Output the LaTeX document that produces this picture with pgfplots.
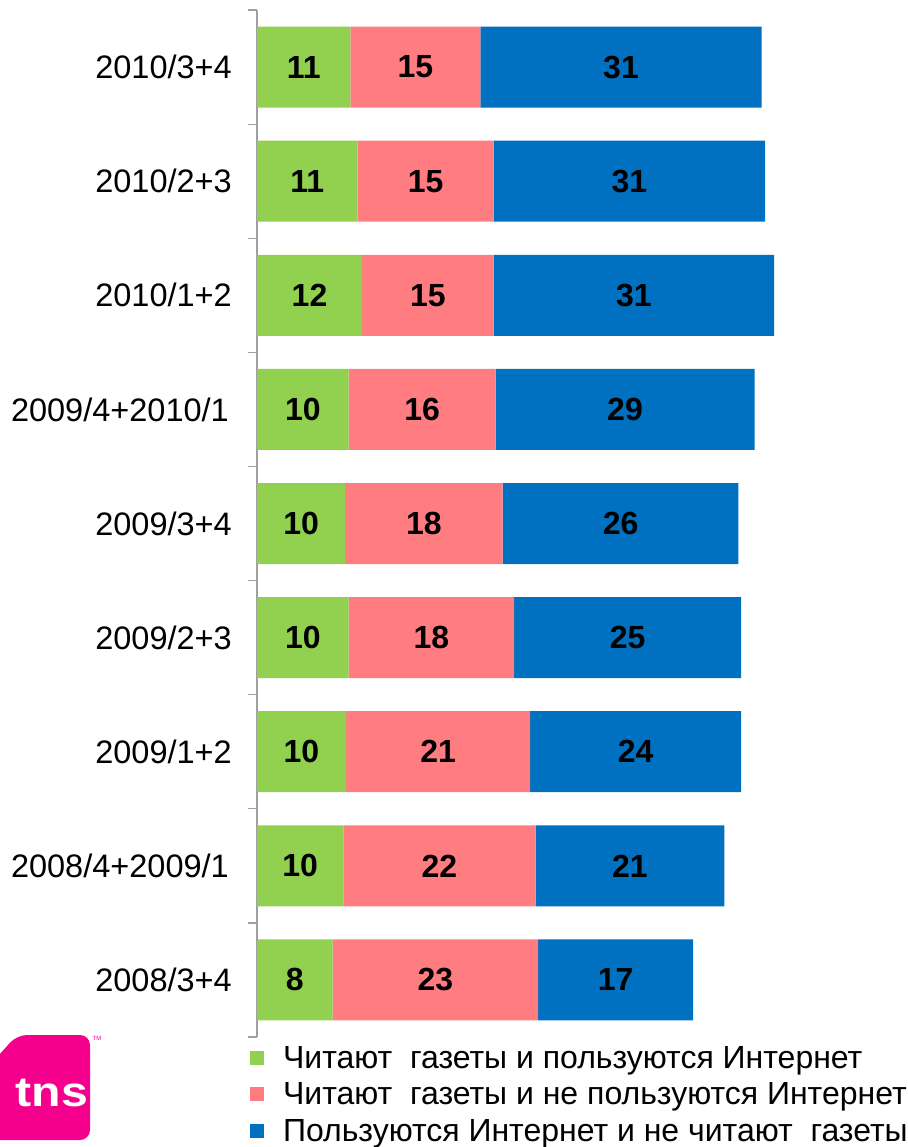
\documentclass[border=0pt]{standalone}
\usepackage{pgfplots}
\pgfplotsset{compat=1.18}
\usepackage{pgfplotstable}
\usepackage{graphicx}
\usepackage{fontspec}
\setmainfont{Liberation Sans}
\definecolor{cg}{HTML}{92D050}
\definecolor{cp}{HTML}{FF7C80}
\definecolor{cb}{HTML}{0070C0}
\definecolor{tnspink}{HTML}{F5008C}
\definecolor{axgray}{HTML}{A0A0A0}

\pgfplotstableread{
y g gl p pl b bl
0 8.5 8 23.1 23 17.4 17
1 9.7 10 21.6 22 21.2 21
2 10.0 10 20.7 21 23.7 24
3 10.3 10 18.6 18 25.5 25
4 9.9 10 17.7 18 26.5 26
5 10.3 10 16.5 16 29.1 29
6 11.8 12 14.8 15 31.5 31
7 11.3 11 15.3 15 30.5 31
8 10.5 11 14.6 15 31.6 31
}\data

\begin{document}
\begin{tikzpicture}
\useasboundingbox (0,0) rectangle (907pt,-1147pt);
\begin{axis}[
  at={(257pt,-1037pt)}, anchor=south west,
  scale only axis, width=623pt, height=1027pt,
  xbar stacked, bar width=81pt,
  xmin=0, xmax=70, ymin=-0.5, ymax=8.5,
  axis x line=none, axis y line=left,
  axis line style={-, draw=axgray, line width=1.2pt},
  ytick={0,...,8},
  yticklabels={2008/3+4,2008/4+2009/1\hspace*{3pt},2009/1+2,2009/2+3,2009/3+4,2009/4+2010/1\hspace*{3pt},2010/1+2,2010/2+3,2010/3+4},
  major tick length=0pt,
  minor ytick={-0.5,0.5,...,8.5},
  minor tick length=9pt, tick align=outside,
  tick style={draw=axgray, line width=1.2pt},
  yticklabel style={font=\fontsize{32.5pt}{36pt}\selectfont, anchor=east, inner sep=0pt, xshift=-25pt},
  point meta=explicit symbolic,
  nodes near coords,
  every node near coord/.append style={font=\bfseries\fontsize{32pt}{36pt}\selectfont, anchor=center, text=black},
  legend style={at={(axis description cs:-0.0112,-0.0088)}, anchor=north west, draw=none, fill=none,
    inner sep=0pt, outer sep=0pt, row sep=13pt,
    font=\fontsize{32pt}{36pt}\selectfont,
    nodes={inner sep=0pt},
    /tikz/every odd column/.append style={column sep=19pt}},
  legend cell align=left,
  legend image code/.code={\fill[#1] (0pt,-7pt) rectangle (14pt,7pt);},
]
\addplot[fill=cg, draw=none] table[x=g, y=y, meta=gl]{\data};
\addplot[fill=cp, draw=none] table[x=p, y=y, meta=pl]{\data};
\addplot[fill=cb, draw=none] table[x=b, y=y, meta=bl]{\data};
\legend{Читают\ \ газеты и пользуются Интернет, Читают\ \ газеты и не пользуются Интернет, Пользуются Интернет и не читают\ \ газеты}
\end{axis}
\fill[tnspink, rounded corners=10pt] (-20pt,-1076pt) -- (17pt,-1035pt) -- (90pt,-1035pt) -- (90pt,-1140pt) -- (-20pt,-1140pt) -- cycle;
\node[text=white, font=\bfseries\fontsize{42pt}{42pt}\selectfont, anchor=base, inner sep=0pt] at (52pt,-1106pt) {\scalebox{1.15}[1]{tns}};
\node[text=tnspink, font=\fontsize{6pt}{6pt}\selectfont, inner sep=0pt] at (97pt,-1038pt) {TM};
\end{tikzpicture}
\end{document}
